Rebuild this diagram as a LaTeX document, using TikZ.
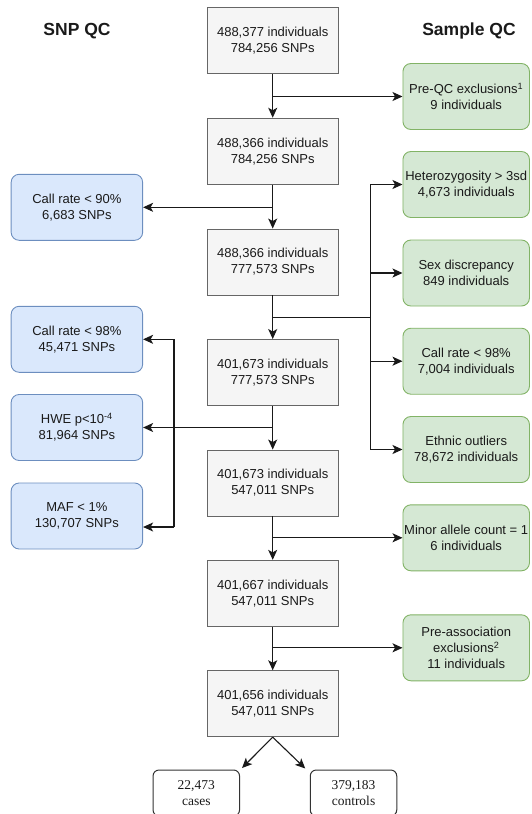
\documentclass[tikz,border=0pt]{standalone}
\usepackage{fontspec}
\setmainfont{Liberation Sans}
\newfontfamily\serifcc{Liberation Serif}
\usetikzlibrary{arrows.meta}
\definecolor{grayfill}{HTML}{F5F5F5}
\definecolor{graydraw}{HTML}{666666}
\definecolor{bluefill}{HTML}{DAE8FC}
\definecolor{bluedraw}{HTML}{6C8EBF}
\definecolor{greenfill}{HTML}{D5E8D4}
\definecolor{greendraw}{HTML}{82B366}
\definecolor{txt}{HTML}{1A1A1A}
\begin{document}
\begin{tikzpicture}[x=1pt,y=-1pt,
  base/.style={align=center, inner sep=1pt, font=\fontsize{13}{16}\selectfont, text=txt, line width=0.9pt, minimum height=66pt},
  mainbox/.style={base, draw=graydraw, fill=grayfill, minimum width=130.5pt},
  snpbox/.style={base, draw=bluedraw, fill=bluefill, rounded corners=8pt, minimum width=131.5pt},
  sampbox/.style={base, draw=greendraw, fill=greenfill, rounded corners=8pt, minimum width=126.5pt},
  endbox/.style={align=center, inner sep=1pt, font=\serifcc\fontsize{13.5}{16.5}\selectfont, text=txt, draw=black!80, line width=1pt, rounded corners=6pt, minimum width=86.5pt, minimum height=46pt},
  title/.style={font=\bfseries\fontsize{17.5}{20}\selectfont, text=txt},
  flow/.style={line width=1.1pt, draw=black!90, -{Stealth[length=10pt,width=9pt,inset=2.5pt]}},
  link/.style={line width=1.1pt, draw=black!90},
]
\useasboundingbox (0,0) rectangle (531,814);

% titles
\node[title] (t1) at (77,31) {SNP QC};
\node[title] (t2) at (469,31) {Sample QC};

% main column
\node[mainbox] (m1) at (272.7,40.5)  {488,377 individuals\\784,256 SNPs};
\node[mainbox] (m2) at (272.7,151.2) {488,366 individuals\\784,256 SNPs};
\node[mainbox] (m3) at (272.7,262)   {488,366 individuals\\777,573 SNPs};
\node[mainbox] (m4) at (272.7,372.5) {401,673 individuals\\777,573 SNPs};
\node[mainbox] (m5) at (272.7,483)   {401,673 individuals\\547,011 SNPs};
\node[mainbox] (m6) at (272.7,593.3) {401,667 individuals\\547,011 SNPs};
\node[mainbox] (m7) at (272.7,703.7) {401,656 individuals\\547,011 SNPs};

% sample QC column
\node[sampbox] (s1) at (466.2,96.5)  {Pre-QC exclusions\textsuperscript{1}\\9 individuals};
\node[sampbox] (s2) at (466.2,184.5) {Heterozygosity > 3sd\\4,673 individuals};
\node[sampbox] (s3) at (466.2,273)   {Sex discrepancy\\849 individuals};
\node[sampbox] (s4) at (466.2,361.2) {Call rate < 98\%\\7,004 individuals};
\node[sampbox] (s5) at (466.2,449.5) {Ethnic outliers\\78,672 individuals};
\node[sampbox] (s6) at (466.2,537.8) {Minor allele count = 1\\6 individuals};
\node[sampbox] (s7) at (466.2,647.8) {Pre-association\\exclusions\textsuperscript{2}\\11 individuals};

% SNP QC column
\node[snpbox] (l1) at (76.9,207.3) {Call rate < 90\%\\6,683 SNPs};
\node[snpbox] (l2) at (76.9,339.3) {Call rate < 98\%\\45,471 SNPs};
\node[snpbox] (l3) at (76.9,427.5) {HWE p<10\textsuperscript{-4}\\81,964 SNPs};
\node[snpbox] (l4) at (76.9,516)   {MAF < 1\%\\130,707 SNPs};

% end boxes
\node[endbox] (c1) at (196.3,793) {22,473\\cases};
\node[endbox] (c2) at (353.5,793) {379,183\\controls};

% main flow
\draw[flow] (m1) -- (m2);
\draw[flow] (m2) -- (m3);
\draw[flow] (m3) -- (m4);
\draw[flow] (m4) -- (m5);
\draw[flow] (m5) -- (m6);
\draw[flow] (m6) -- (m7);

% side exits
\draw[flow] (m1.south |- s1.west) -- (s1.west);
\draw[flow] (m2.south |- l1.east) -- (l1.east);
\draw[flow] (m5.south |- s6.west) -- (s6.west);
\draw[flow] (m6.south |- s7.west) -- (s7.west);

% right bus
\coordinate (jr) at (272.7,317.7);
\coordinate (br) at (370.3,317.7);
\coordinate (brt) at (br |- s2.west);
\coordinate (brb) at (br |- s5.west);
\draw[link] (jr) -- (br);
\draw[link] (brt) -- (brb);
\draw[flow] (brt) -- (s2.west);
\draw[flow] (br |- s3.west) -- (s3.west);
\draw[flow] (br |- s4.west) -- (s4.west);
\draw[flow] (brb) -- (s5.west);

% left bus
\coordinate (l4in) at ([yshift=-11pt]l4.east);
\coordinate (bl) at (174,427.5);
\coordinate (blt) at (bl |- l2.east);
\coordinate (blb) at (bl |- l4in);
\draw[flow] (m4.south |- l3.east) -- (l3.east);
\draw[link] (blt) -- (blb);
\draw[flow] (blt) -- (l2.east);
\draw[flow] (blb) -- (l4in);

% split to cases / controls
\draw[flow] (m7.south) -- ([shift={(2pt,1.5pt)}]c1.north east);
\draw[flow] (m7.south) -- ([shift={(-4.5pt,1pt)}]c2.north west);
\end{tikzpicture}
\end{document}
